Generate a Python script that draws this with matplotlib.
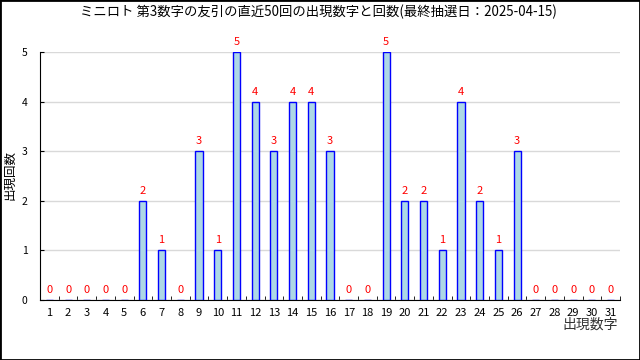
import numpy as np
import matplotlib
matplotlib.use("Agg")
import matplotlib.pyplot as plt
from matplotlib.patches import Rectangle

plt.rcParams['font.family'] = ['Noto Sans CJK JP', 'DejaVu Sans']

# data
numbers = list(range(1, 32))
counts = [0, 0, 0, 0, 0, 2, 1, 0, 3, 1, 5, 4, 3, 4, 4, 3, 0, 0,
          5, 2, 2, 1, 4, 2, 1, 3, 0, 0, 0, 0, 0]
title = "ミニロト 第3数字の友引の直近50回の出現数字と回数(最終抽選日：2025-04-15)"

fig = plt.figure(figsize=(6.4, 3.6), dpi=100)
ax = fig.add_axes([40 / 640, 60 / 360, 580 / 640, 248 / 360])

x = np.arange(len(numbers))
ax.bar(x, counts, width=0.38, color="#add8e6", edgecolor="blue", linewidth=1, zorder=3)
for xi, c in zip(x, counts):
    ax.text(xi, c + 0.1, str(c), color="red", ha="center", va="bottom", fontsize=8,
            clip_on=False)

ax.set_xlim(-0.5, len(numbers) - 0.5)
ax.set_ylim(0, 5)
ax.set_xticks(x)
ax.set_xticklabels([str(n) for n in numbers], fontsize=8)
ax.tick_params(axis="x", length=0, pad=6)
ax.set_xticks(np.arange(-0.5, len(numbers), 1), minor=True)
ax.tick_params(axis="x", which="minor", direction="in", length=3)
ax.set_yticks(range(0, 6))
ax.tick_params(axis="y", direction="in", length=3, labelsize=7.5, pad=9)
ax.grid(axis="y", color="#d9d9d9", lw=1, zorder=0)
for s in ["top", "right"]:
    ax.spines[s].set_visible(False)

fig.text(10 / 640, 1 - 175 / 360, "出現回数", rotation=90, ha="center", va="center", fontsize=9)
fig.text(618 / 640, 1 - 325 / 360, "出現数字", ha="right", va="center", fontsize=10,
         color="#333333")
fig.text(318 / 640, 1 - 12 / 360, title, ha="center", va="center", fontsize=9.6)

fig.patches.append(Rectangle((0, 0), 1, 1, transform=fig.transFigure, fill=False,
                             edgecolor="black", linewidth=2))
fig.savefig("out.png", dpi=100)
